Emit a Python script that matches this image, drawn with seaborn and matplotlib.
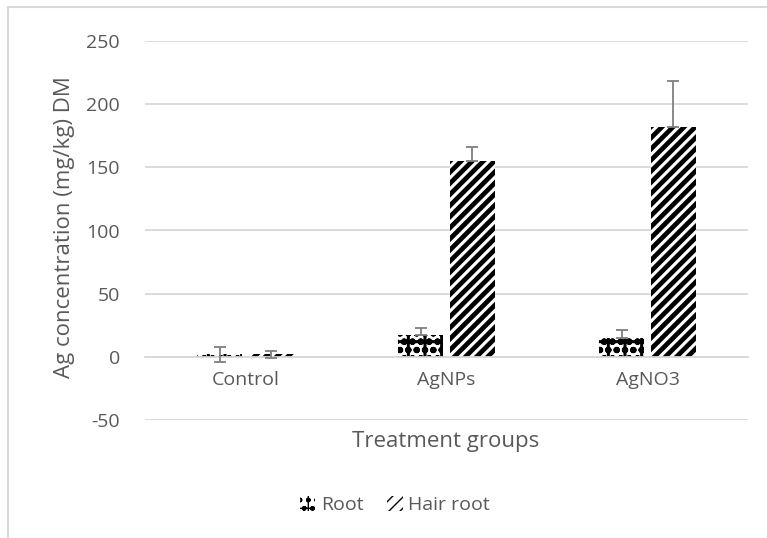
import matplotlib
matplotlib.use("Agg")
import matplotlib.pyplot as plt
import seaborn as sns
import pandas as pd
import numpy as np
from matplotlib.patches import Patch
from matplotlib.lines import Line2D

groups = ["Control", "AgNPs", "AgNO3"]
series = ["Root", "Hair root"]
root_vals = [2, 17, 15]
root_err = [6, 6, 6]
hair_vals = [2, 155, 182]
hair_err = [3, 11, 36]
yticks = [-50, 0, 50, 100, 150, 200, 250]

sns.set_theme(style="white")
plt.rcParams['font.family'] = ['Open Sans', 'DejaVu Sans']
plt.rcParams['axes.unicode_minus'] = False

TXT = "#595959"
GRID = "#d9d9d9"
hatches = ["oo+", "///"]
hatch_lw = [2.2, 3.4]

df = pd.DataFrame({
    "group": groups * 2,
    "series": [series[0]] * 3 + [series[1]] * 3,
    "value": root_vals + hair_vals,
})
errs = root_err + hair_err


def style_patch(p, s):
    p.set_hatch(hatches[s])
    p.set_edgecolor("black")
    p.set_linewidth(0)
    if hasattr(p, "set_hatch_linewidth"):
        p.set_hatch_linewidth(hatch_lw[s])
    else:
        p._hatch_linewidth = hatch_lw[s]


fig = plt.figure(figsize=(7.67, 5.38), dpi=100)
ax = fig.add_axes([145 / 767, 1 - 420 / 538, (748 - 145) / 767, (420 - 41) / 538])

sns.barplot(data=df, x="group", y="value", hue="series", order=groups,
            hue_order=series, palette=["white", "white"], width=0.51, gap=0.125,
            errorbar=None, legend=False, ax=ax, saturation=1)

bars = [p for p in ax.patches]
for i, p in enumerate(bars):
    style_patch(p, i // 3)
    p.set_zorder(2)

for i, p in enumerate(bars):
    cx = p.get_x() + p.get_width() / 2
    v = df["value"].iloc[i]
    lower = errs[i] if df["group"].iloc[i] == "Control" else 0
    ax.errorbar(cx, v, yerr=[[lower], [errs[i]]], fmt="none", ecolor="#7f7f7f",
                elinewidth=1.3, capsize=4, capthick=1.3, zorder=3)

ax.set_ylim(-50, 250)
ax.set_yticks(yticks)
ax.set_xlim(-0.5, 2.5)
ax.yaxis.grid(True, color=GRID, linewidth=1.3)
ax.set_axisbelow(True)
for s in ["top", "right", "left"]:
    ax.spines[s].set_visible(False)
ax.spines["bottom"].set_position(("data", 0))
ax.spines["bottom"].set_color(GRID)
ax.spines["bottom"].set_linewidth(1.3)
ax.tick_params(axis="both", length=0, labelsize=14, colors=TXT)
ax.tick_params(axis="y", pad=18)
ax.tick_params(axis="x", pad=10)
ax.set_xlabel("")
ax.set_ylabel("")

fig.text(446 / 767, 1 - 441 / 538, "Treatment groups", ha="center", va="center",
         fontsize=16, color=TXT)
fig.text(65 / 767, 1 - 227 / 538, "Ag concentration (mg/kg) DM", ha="center",
         va="center", rotation=90, fontsize=16, color=TXT)

handles = []
for s in range(2):
    h = Patch(facecolor="white")
    style_patch(h, s)
    handles.append(h)
fig.legend(handles, series, loc="center", bbox_to_anchor=(395 / 767, 1 - 505 / 538),
           ncol=2, frameon=False, fontsize=14, labelcolor=TXT, handlelength=0.8,
           handleheight=0.8, handletextpad=0.3, columnspacing=1.2)

fig.add_artist(Line2D([8 / 767, 8 / 767], [0, 1 - 7 / 538], color=GRID, linewidth=1.5,
                      transform=fig.transFigure))
fig.add_artist(Line2D([8 / 767, 1], [1 - 7 / 538, 1 - 7 / 538], color=GRID, linewidth=1.5,
                      transform=fig.transFigure))

fig.savefig("out.png", dpi=100)
